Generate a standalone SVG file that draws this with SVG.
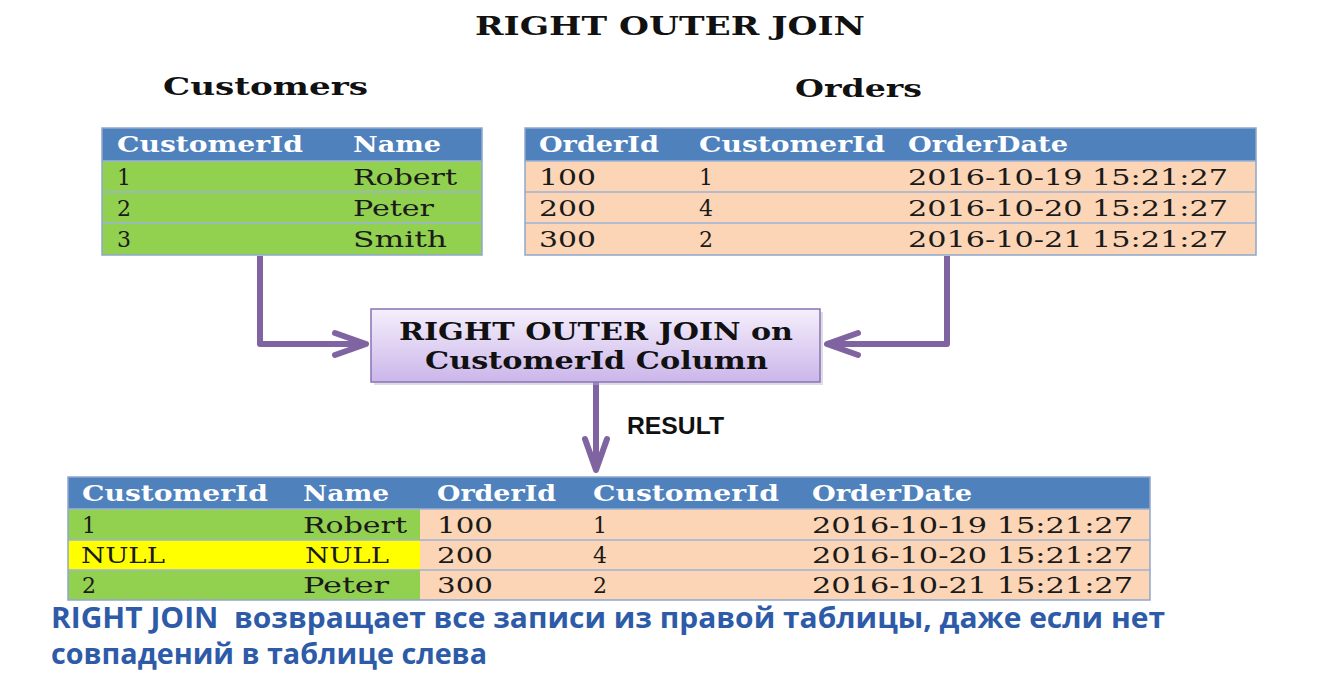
<svg xmlns="http://www.w3.org/2000/svg" width="1344" height="679" viewBox="0 0 1344 679">
<style>
.hdr{fill:#4f81bd}
.grn{fill:#92d050}
.pch{fill:#fbd5b5}
.yel{fill:#ffff00}
.sep{stroke:#9db3d6;stroke-width:1.5;fill:none}
.frame{fill:none;stroke:#8fa7cc;stroke-width:1.5}
.th{font-family:"DejaVu Serif","Liberation Serif",serif;font-weight:bold;font-size:22px;fill:#ffffff}
.td{font-family:"DejaVu Serif","Liberation Serif",serif;font-size:22px;fill:#1a1a1a}
.big{font-family:"DejaVu Serif","Liberation Serif",serif;font-weight:bold;fill:#111111}
.conn{fill:none;stroke:#8064a2;stroke-width:6;stroke-linejoin:round}
.cap{font-family:"Open Sans","DejaVu Sans",sans-serif;font-weight:bold;font-size:29px;fill:#2e5ba8}
</style>
<defs>
<linearGradient id="boxg" x1="0" y1="0" x2="0" y2="1">
<stop offset="0" stop-color="#f5effc"/>
<stop offset="1" stop-color="#cbb6ea"/>
</linearGradient>
<marker id="chev" markerUnits="userSpaceOnUse" markerWidth="60" markerHeight="40" viewBox="-45 -20 60 40" refX="0" refY="0" orient="auto" overflow="visible">
<path d="M-31,-11 L0,0 L-31,11" fill="none" stroke="#8064a2" stroke-width="6" stroke-linecap="round" stroke-linejoin="round"/>
</marker>
</defs>
<rect width="1344" height="679" fill="#ffffff"/>

<g id="title">
<text class="big" x="475" y="35" font-size="26" textLength="390" lengthAdjust="spacingAndGlyphs">RIGHT OUTER JOIN</text>
</g>

<g id="connectors">
<path class="conn" d="M260,256 V344 H366" marker-end="url(#chev)"/>
<path class="conn" d="M947,256 V344 H827" marker-end="url(#chev)"/>
<path class="conn" d="M596,382 V470" marker-end="url(#chev)"/>
</g>

<g id="customers">
<text class="big" x="163" y="95" font-size="25" textLength="205" lengthAdjust="spacingAndGlyphs">Customers</text>
<rect class="hdr" x="102" y="128" width="380" height="33"/>
<rect class="grn" x="102" y="161" width="380" height="94"/>
<path class="sep" d="M102,161 H482 M102,192 H482 M102,223 H482"/>
<rect class="frame" x="102" y="128" width="380" height="127"/>
<text class="th" x="117" y="152" textLength="186" lengthAdjust="spacingAndGlyphs">CustomerId</text>
<text class="th" x="353" y="152" textLength="88" lengthAdjust="spacingAndGlyphs">Name</text>
<text class="td" x="117" y="185">1</text>
<text class="td" x="353" y="185" textLength="104" lengthAdjust="spacingAndGlyphs">Robert</text>
<text class="td" x="117" y="216">2</text>
<text class="td" x="353" y="216" textLength="81" lengthAdjust="spacingAndGlyphs">Peter</text>
<text class="td" x="117" y="247">3</text>
<text class="td" x="353" y="247" textLength="94" lengthAdjust="spacingAndGlyphs">Smith</text>
</g>

<g id="orders">
<text class="big" x="795" y="97" font-size="25" textLength="127" lengthAdjust="spacingAndGlyphs">Orders</text>
<rect class="hdr" x="525" y="128" width="731" height="33"/>
<rect class="pch" x="525" y="161" width="731" height="94"/>
<path class="sep" d="M525,161 H1256 M525,192 H1256 M525,223 H1256"/>
<rect class="frame" x="525" y="128" width="731" height="127"/>
<text class="th" x="539" y="152" textLength="120" lengthAdjust="spacingAndGlyphs">OrderId</text>
<text class="th" x="699" y="152" textLength="186" lengthAdjust="spacingAndGlyphs">CustomerId</text>
<text class="th" x="908" y="152" textLength="160" lengthAdjust="spacingAndGlyphs">OrderDate</text>
<text class="td" x="539" y="185" textLength="57" lengthAdjust="spacingAndGlyphs">100</text>
<text class="td" x="699" y="185">1</text>
<text class="td" x="908" y="185" textLength="320" lengthAdjust="spacingAndGlyphs">2016-10-19 15:21:27</text>
<text class="td" x="539" y="216" textLength="57" lengthAdjust="spacingAndGlyphs">200</text>
<text class="td" x="699" y="216">4</text>
<text class="td" x="908" y="216" textLength="320" lengthAdjust="spacingAndGlyphs">2016-10-20 15:21:27</text>
<text class="td" x="539" y="247" textLength="57" lengthAdjust="spacingAndGlyphs">300</text>
<text class="td" x="699" y="247">2</text>
<text class="td" x="908" y="247" textLength="320" lengthAdjust="spacingAndGlyphs">2016-10-21 15:21:27</text>
</g>

<g id="join-box">
<rect x="374" y="312" width="449" height="73" fill="#b9b3c4" opacity="0.45"/>
<rect x="371" y="309" width="449" height="73" fill="url(#boxg)" stroke="#8a72b4" stroke-width="1.5"/>
<text class="big" x="399" y="340" font-size="24" textLength="394" lengthAdjust="spacingAndGlyphs">RIGHT OUTER JOIN on</text>
<text class="big" x="425" y="369" font-size="24" textLength="343" lengthAdjust="spacingAndGlyphs">CustomerId Column</text>
</g>

<g id="result-label">
<text x="627" y="434" font-family="'Liberation Sans','DejaVu Sans',sans-serif" font-weight="bold" font-size="23" fill="#111111" textLength="97" lengthAdjust="spacingAndGlyphs">RESULT</text>
</g>

<g id="result-table">
<rect class="hdr" x="68" y="477" width="1082" height="32"/>
<rect class="grn" x="68" y="509" width="352" height="91"/>
<rect class="yel" x="68" y="540" width="352" height="30"/>
<rect class="pch" x="420" y="509" width="730" height="91"/>
<path class="sep" d="M68,509 H1150 M68,540 H1150 M68,570 H1150"/>
<rect class="frame" x="68" y="477" width="1082" height="123"/>
<text class="th" x="82" y="501" textLength="186" lengthAdjust="spacingAndGlyphs">CustomerId</text>
<text class="th" x="303" y="501" textLength="86" lengthAdjust="spacingAndGlyphs">Name</text>
<text class="th" x="437" y="501" textLength="119" lengthAdjust="spacingAndGlyphs">OrderId</text>
<text class="th" x="593" y="501" textLength="186" lengthAdjust="spacingAndGlyphs">CustomerId</text>
<text class="th" x="812" y="501" textLength="160" lengthAdjust="spacingAndGlyphs">OrderDate</text>
<text class="td" x="82" y="533">1</text>
<text class="td" x="303" y="533" textLength="104" lengthAdjust="spacingAndGlyphs">Robert</text>
<text class="td" x="437" y="533" textLength="56" lengthAdjust="spacingAndGlyphs">100</text>
<text class="td" x="593" y="533">1</text>
<text class="td" x="812" y="533" textLength="321" lengthAdjust="spacingAndGlyphs">2016-10-19 15:21:27</text>
<text class="td" x="81" y="563" textLength="84" lengthAdjust="spacingAndGlyphs">NULL</text>
<text class="td" x="305" y="563" textLength="84" lengthAdjust="spacingAndGlyphs">NULL</text>
<text class="td" x="437" y="563" textLength="56" lengthAdjust="spacingAndGlyphs">200</text>
<text class="td" x="593" y="563">4</text>
<text class="td" x="812" y="563" textLength="321" lengthAdjust="spacingAndGlyphs">2016-10-20 15:21:27</text>
<text class="td" x="82" y="593">2</text>
<text class="td" x="303" y="593" textLength="86" lengthAdjust="spacingAndGlyphs">Peter</text>
<text class="td" x="437" y="593" textLength="56" lengthAdjust="spacingAndGlyphs">300</text>
<text class="td" x="593" y="593">2</text>
<text class="td" x="812" y="593" textLength="321" lengthAdjust="spacingAndGlyphs">2016-10-21 15:21:27</text>
</g>

<g id="caption">
<text class="cap" x="51" y="628" xml:space="preserve" textLength="1114" lengthAdjust="spacingAndGlyphs">RIGHT JOIN  возвращает все записи из правой таблицы, даже если нет</text>
<text class="cap" x="51" y="664" textLength="436" lengthAdjust="spacingAndGlyphs">совпадений в таблице слева</text>
</g>
</svg>
